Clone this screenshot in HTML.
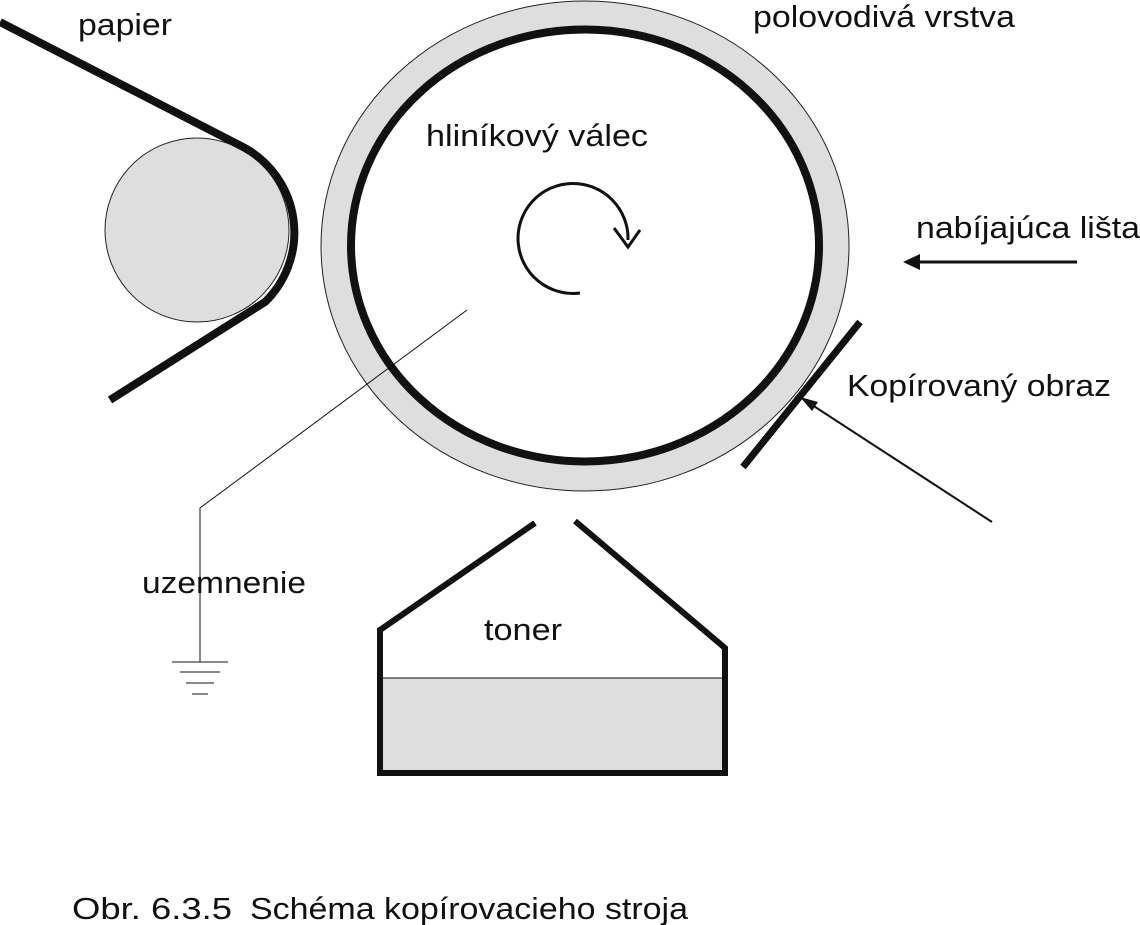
<!DOCTYPE html>
<html><head><meta charset="utf-8"><style>
html,body{margin:0;padding:0;background:#fff;}
svg{display:block;}
text{font-family:"Liberation Sans",sans-serif;font-size:31px;fill:#111;}
</style></head><body>
<svg width="1140" height="925" viewBox="0 0 1140 925" xmlns="http://www.w3.org/2000/svg">
<ellipse cx="585" cy="246" rx="264" ry="245" fill="#dedede" stroke="#222" stroke-width="1"/>
<ellipse cx="585" cy="245.5" rx="234" ry="216" fill="#fff" stroke="#111" stroke-width="8"/>
<circle cx="197" cy="230" r="92" fill="#dedede" stroke="#222" stroke-width="1"/>
<path d="M0,22 L245,148 A97,97 0 0 1 265,302 L110,400" fill="none" stroke="#111" stroke-width="8"/>
<polyline points="467,310 200,508 200,662" fill="none" stroke="#111" stroke-width="1"/>
<line x1="172" y1="662" x2="228" y2="662" stroke="#111" stroke-width="1"/>
<line x1="180" y1="672" x2="220" y2="672" stroke="#111" stroke-width="1"/>
<line x1="186" y1="683" x2="214" y2="683" stroke="#111" stroke-width="1"/>
<line x1="192" y1="694" x2="208" y2="694" stroke="#111" stroke-width="1"/>
<path d="M580,293 A55,55 0 1 1 628,240" fill="none" stroke="#111" stroke-width="3"/>
<polyline points="614,228 628,247 640,230" fill="none" stroke="#111" stroke-width="3"/>
<line x1="1077" y1="262" x2="912" y2="262" stroke="#111" stroke-width="3"/>
<polygon points="903,262 920,254 920,270" fill="#111"/>
<line x1="860" y1="322" x2="743" y2="467" stroke="#111" stroke-width="7"/>
<line x1="992" y1="522" x2="806" y2="401" stroke="#111" stroke-width="2"/>
<polygon points="800,397 818,402 812,411" fill="#111"/>
<rect x="380" y="678" width="345" height="95" fill="#dedede"/>
<line x1="380" y1="678" x2="725" y2="678" stroke="#111" stroke-width="1"/>
<polyline points="535,523 380,630 380,773 725,773 725,648 575,521" fill="none" stroke="#111" stroke-width="6"/>
<text x="78" y="35" textLength="94" lengthAdjust="spacingAndGlyphs">papier</text>
<text x="753" y="27" textLength="262" lengthAdjust="spacingAndGlyphs">polovodivá vrstva</text>
<text x="426" y="146" textLength="222" lengthAdjust="spacingAndGlyphs">hliníkový válec</text>
<text x="916" y="238" textLength="224" lengthAdjust="spacingAndGlyphs">nabíjajúca lišta</text>
<text x="847" y="396" textLength="264" lengthAdjust="spacingAndGlyphs">Kopírovaný obraz</text>
<text x="142" y="593" textLength="164" lengthAdjust="spacingAndGlyphs">uzemnenie</text>
<text x="484" y="640" textLength="78" lengthAdjust="spacingAndGlyphs">toner</text>
<text x="72" y="919" textLength="160" lengthAdjust="spacingAndGlyphs">Obr. 6.3.5</text>
<text x="250" y="919" textLength="438" lengthAdjust="spacingAndGlyphs">Schéma kopírovacieho stroja</text>
</svg>
</body></html>
